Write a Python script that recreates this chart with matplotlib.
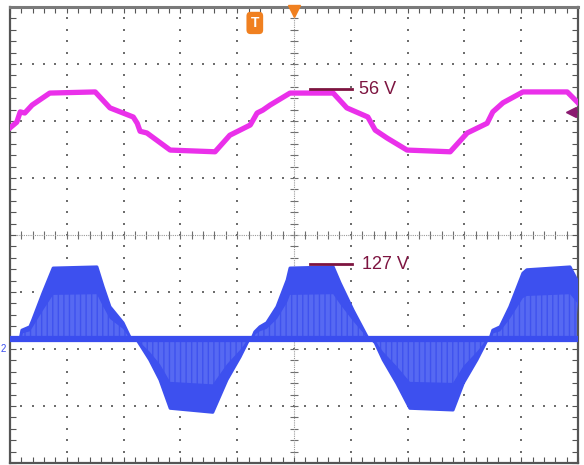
import numpy as np
import matplotlib.pyplot as plt

plt.rcParams['font.family'] = ['Liberation Sans', 'DejaVu Sans']
plt.rcParams['hatch.linewidth'] = 1.0

# channel 1 (magenta), in screen divisions
ch1_t = [0.00, 0.12, 0.18, 0.26, 0.39, 0.70, 1.50, 1.76, 2.17, 2.24, 2.29, 2.41,
         2.82, 3.61, 3.87, 4.23, 4.35, 4.45, 4.58, 4.93, 5.69, 5.93, 6.30, 6.43,
         6.64, 6.99, 7.75, 8.05, 8.40, 8.50, 8.68, 9.03, 9.81, 10.00]
ch1_v = [1.88, 1.98, 2.16, 2.14, 2.28, 2.49, 2.51, 2.23, 2.07, 1.96, 1.82, 1.79,
         1.49, 1.46, 1.75, 1.93, 2.14, 2.19, 2.28, 2.49, 2.49, 2.23, 2.07, 1.84,
         1.70, 1.49, 1.46, 1.79, 1.96, 2.16, 2.32, 2.51, 2.51, 2.32]

# channel 2 (blue, PWM) envelope, in screen divisions
ch2_zero = -1.82
ch2_t = [0.00, 0.18, 0.21, 0.35, 0.40, 0.58, 0.76, 1.53, 1.64, 1.76, 1.99, 2.11, 2.18,
         2.25, 2.46, 2.64, 2.82, 3.57, 3.82, 4.05, 4.19, 4.26,
         4.31, 4.40, 4.52, 4.70, 4.88, 4.93, 5.69, 5.81, 6.04, 6.29, 6.36,
         6.43, 6.57, 6.81, 7.04, 7.80, 7.98, 8.22, 8.40, 8.45,
         8.50, 8.63, 8.80, 9.03, 9.10, 9.86, 9.98, 10.00]
ch2_env = [-1.82, -1.82, -1.67, -1.61, -1.49, -1.02, -0.58, -0.56, -0.91, -1.26, -1.54, -1.79, -1.82,
           -1.86, -2.19, -2.54, -3.04, -3.11, -2.54, -2.14, -1.86, -1.82,
           -1.70, -1.61, -1.54, -1.26, -0.79, -0.58, -0.56, -0.84, -1.32, -1.79, -1.82,
           -1.89, -2.19, -2.60, -3.04, -3.07, -2.60, -2.19, -1.84, -1.82,
           -1.67, -1.61, -1.26, -0.67, -0.61, -0.56, -0.79, -1.14]

ch1_label = '56 V'
ch2_label = '127 V'

fig = plt.figure(figsize=(5.84, 4.65), dpi=100)
ax = fig.add_axes([10 / 584, 2 / 465, 568 / 584, 456 / 465])
ax.set_xlim(0, 10)
ax.set_ylim(-4, 4)

# graticule
grid_c = '#6e6e6e'
minor = np.arange(0, 10.01, 0.2)
minor_y = np.arange(-4, 4.01, 0.2)
for gx in range(1, 10):
    if gx != 5:
        ax.scatter(np.full(len(minor_y), gx), minor_y, s=1.5, marker='s', color=grid_c, lw=0, zorder=1)
for gy in range(-3, 4):
    if gy != 0:
        ax.scatter(minor, np.full(len(minor), gy), s=1.5, marker='s', color=grid_c, lw=0, zorder=1)
ax.plot(minor, np.zeros(len(minor)), ls='none', marker='|', ms=6, mew=0.8, color=grid_c, zorder=1)
ax.plot(np.full(len(minor_y), 5), minor_y, ls='none', marker='_', ms=6, mew=0.8, color=grid_c, zorder=1)
ax.axhline(0, color='#9a9a9a', lw=0.8, ls=(0, (1, 1)), zorder=1)
ax.axvline(5, color='#9a9a9a', lw=0.8, ls=(0, (1, 1)), zorder=1)

ax.set_xticks(np.arange(0, 10.01, 0.2))
ax.set_yticks(np.arange(-4, 4.01, 0.2))
ax.tick_params(direction='in', length=4, width=0.8, color='#555555',
               top=True, right=True, labelbottom=False, labelleft=False)
for sp in ax.spines.values():
    sp.set_color('#555555')
    sp.set_linewidth(1.6)
ax.spines['top'].set_linewidth(2.2)
ax.spines['top'].set_color('#7a7a7a')

# channel 2
t2 = np.array(ch2_t)
e2 = np.array(ch2_env)
ax.fill_between(t2, ch2_zero, e2, facecolor='#5669f2', edgecolor='#3f52ee',
                hatch='|||', lw=0, zorder=2)
ax.fill_between(t2, ch2_zero + 0.62 * (e2 - ch2_zero), e2, facecolor='#3d50ef', lw=0, zorder=3)
ax.plot(t2, e2, color='#3d50ef', lw=2.2, solid_joinstyle='round', zorder=3)
ax.axhline(ch2_zero, color='#3a4def', lw=4.5, zorder=3)

# channel 1
ax.plot(ch1_t, ch1_v, color='#ea30ea', lw=3.8, solid_joinstyle='round', zorder=4)

# cursor markers
lab_c = '#7d1440'
ax.plot([5.28, 6.02], [2.56, 2.56], color=lab_c, lw=2, zorder=5)
ax.text(6.14, 2.56, ch1_label, color=lab_c, fontsize=13, va='center', ha='left', zorder=5)
ax.plot([5.28, 6.02], [-0.51, -0.51], color=lab_c, lw=2, zorder=5)
ax.text(6.20, -0.51, ch2_label, color=lab_c, fontsize=13, va='center', ha='left', zorder=5)

# trigger / reference markers
ax.plot([5], [3.93], marker='v', ms=9, color='#f08020', clip_on=False, zorder=6)
ax.text(4.31, 3.72, 'T', color='white', fontsize=10, fontweight='bold', ha='center', va='center',
        bbox=dict(boxstyle='round,pad=0.3', fc='#f08020', ec='none'), zorder=6)
ax.plot([9.88], [2.16], marker='<', ms=7, color='#8a1a70', zorder=6)
ax.plot([9.92, 10.0], [2.16, 2.16], color='#8a1a70', lw=1.2, zorder=6)
fig.text(1 / 584, 1 - 349 / 465, '2', color='#3a4def', fontsize=7, va='center', ha='left')

fig.savefig('out.png', dpi=100)
